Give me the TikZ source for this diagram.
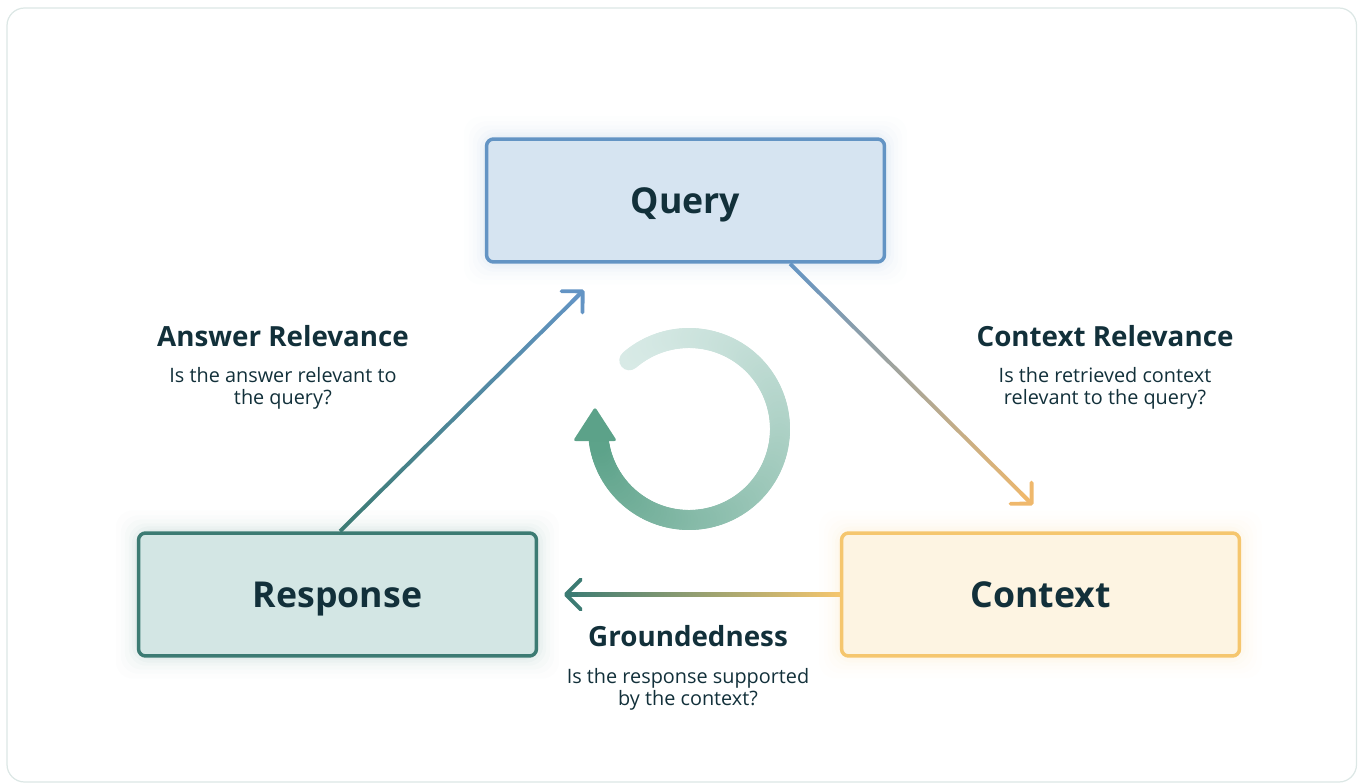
\documentclass[tikz,border=0pt]{standalone}
\usepackage{fontspec}
\setmainfont{Open Sans}
\usetikzlibrary{calc,arrows.meta,backgrounds}
\definecolor{qline}{HTML}{6394C4}
\definecolor{qfill}{HTML}{D6E4F1}
\definecolor{rline}{HTML}{3C7B73}
\definecolor{rfill}{HTML}{D3E6E4}
\definecolor{cline}{HTML}{F5C66E}
\definecolor{cfill}{HTML}{FDF4E2}
\definecolor{corange}{HTML}{EFB86C}
\definecolor{ink}{HTML}{12303A}
\definecolor{framec}{HTML}{DCE7E5}
\definecolor{ringlight}{HTML}{D8EAE6}
\definecolor{ringdark}{HTML}{5CA289}
\newcommand\gradconn[4]{%
  \path #1 coordinate (gA) #2 coordinate (gB);
  \path let \p1=($(gB)-(gA)$), \n1={atan2(\y1,\x1)}, \n2={veclen(\x1,\y1)} in
    \pgfextra{\xdef\gang{\n1}\xdef\glen{\n2}};
  \begin{scope}[shift={(gA)}, rotate=\gang]
    \shade[left color=#3, right color=#4] (0pt,-1.1pt) rectangle (\glen,1.1pt);
  \end{scope}}
\newcommand\halo[2]{%
  \foreach \d/\o in {2/0.035,5/0.03,8/0.025,12/0.02,16/0.015,21/0.01}{%
    \fill[#2, opacity=\o, rounded corners=10pt] ($(#1.south west)+(-\d,\d)$) rectangle ($(#1.north east)+(\d,-\d)$);
  }}
\begin{document}
\begin{tikzpicture}[x=0.02cm,y=-0.02cm,
  box/.style={draw, line width=2pt, rounded corners=4pt, minimum width=7.96cm, minimum height=2.46cm,
    font=\fontsize{20.3}{24}\selectfont\bfseries, text=ink, text height=14.5pt, text depth=0pt},
  ttl/.style={anchor=base, inner sep=0pt, font=\fontsize{15.8}{18}\selectfont\bfseries, text=ink},
  sub/.style={anchor=base, inner sep=0pt, font=\fontsize{11.3}{13}\selectfont, text=ink},
  tip/.style={line width=2.2pt, -{Straight Barb[length=8.5pt,width=17pt,round]}},
]
\useasboundingbox (0,0) rectangle (1358,783);
\draw[framec, line width=0.7pt, rounded corners=10pt] (7,8) rectangle (1356.5,782);

% boxes
\node[box, draw=qline, fill=qfill] (query) at (685.5,200.5) {Query};
\node[box, draw=rline, fill=rfill] (resp) at (337.5,594.5) {Response};
\node[box, draw=cline, fill=cfill] (ctx) at (1040.5,594.5) {Context};

% connector end points
\coordinate (a0) at ($(resp.north)+(2.5,0)$);
\coordinate (a1) at (584,290);
\coordinate (c0) at ($(query.south)+(104.5,0)$);
\coordinate (c1) at (1033,505);
\coordinate (g0) at (ctx.west);
\coordinate (g1) at (564,594.5);

\begin{pgfonlayer}{background}
  \halo{query}{qline}
  \halo{resp}{rline}
  \halo{ctx}{cline}
  \gradconn{(a0)}{($(a0)!0.99!(a1)$)}{rline}{qline}
  \draw[tip, qline] ($(a0)!0.95!(a1)$) -- (a1);
  \gradconn{(c0)}{($(c0)!0.99!(c1)$)}{qline}{corange}
  \draw[tip, corange] ($(c0)!0.95!(c1)$) -- (c1);
  \gradconn{($(g0)!0.99!(g1)$)}{(g0)}{rline}{cline}
  \draw[tip, rline] ($(g0)!0.95!(g1)$) -- (g1);
\end{pgfonlayer}

% labels
\node[ttl] (artitle) at (283,347) {Answer Relevance};
\node[sub] (arsub1) at (283,383) {Is the answer relevant to};
\node[sub] (arsub2) at (283,405) {the query?};
\node[ttl] (crtitle) at (1105,347) {Context Relevance};
\node[sub] (crsub1) at (1105,383) {Is the retrieved context};
\node[sub] (crsub2) at (1105,405) {relevant to the query?};
\node[ttl] (grtitle) at (688,646) {Groundedness};
\node[sub] (grsub1) at (688,683) {Is the response supported};
\node[sub] (grsub2) at (688,705) {by the context?};

% cycle symbol
\foreach \a in {131,129,...,-171}{%
  \pgfmathsetmacro\f{100*((131-\a)/304)^1.3}%
  \draw[line width=0.4cm, line cap=round, color=ringdark!\f!ringlight]
    ({689+91*cos(\a)},{429-91*sin(\a)}) -- ({689+91*cos(\a-2)},{429-91*sin(\a-2)});
}
\fill[ringdark, rounded corners=1.5pt] (595,407) -- (617,441) -- (573,441) -- cycle;
\end{tikzpicture}
\end{document}
